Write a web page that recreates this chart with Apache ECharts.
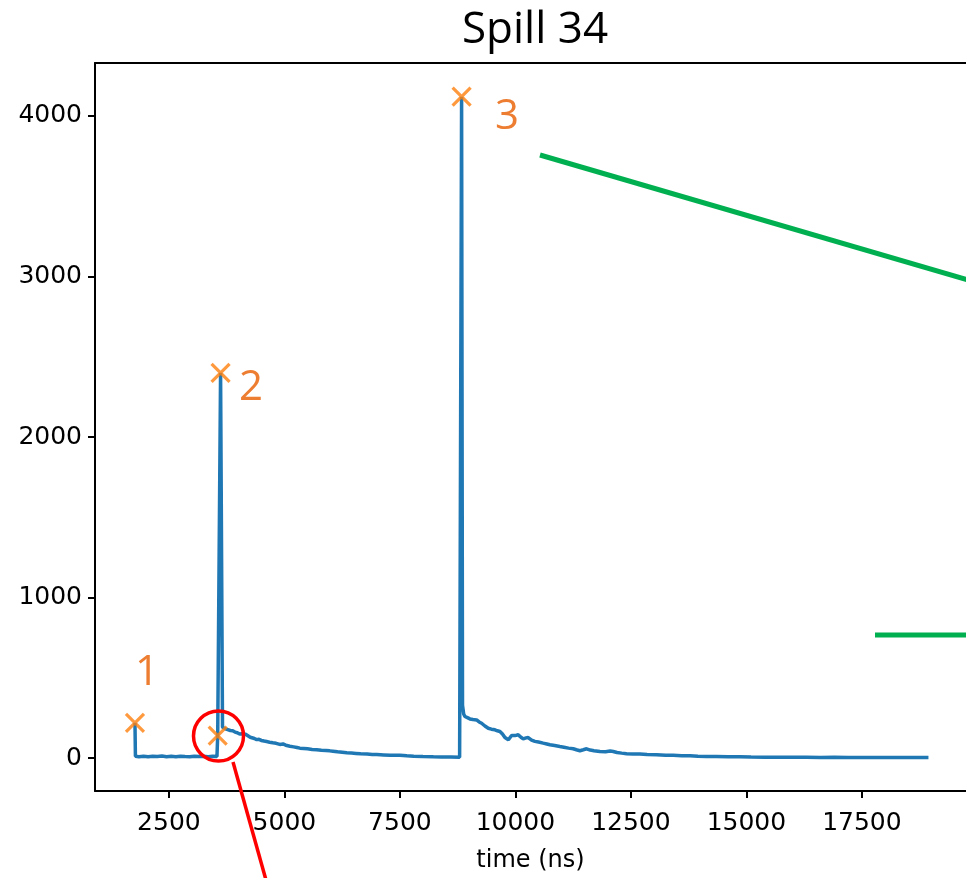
<!DOCTYPE html>
<html><head><meta charset="utf-8">
<script src="https://cdn.jsdelivr.net/npm/echarts@6/dist/echarts.min.js"></script>
<style>html,body{margin:0;padding:0;background:#fff}#c{width:966px;height:878px}</style>
</head><body><div id="c"></div>
<script>
// waveform (time in ns, amplitude)
const timeNs = [1765,1775,1850,1950,2050,2150,2250,2350,2450,2550,2650,2750,2850,2950,3050,3150,3250,3350,3450,3540,
  3556,3618,3660,3700,3740,3780,3830,3880,3930,3980,4030,4080,4110,4160,4200,4260,4300,4350,4400,4450,4500,4560,4615,4680,
  4750,4820,4900,4970,5050,5120,5200,5270,5335,5420,5500,5600,5700,5800,5900,5980,6050,6150,6250,6350,6450,6550,6650,6790,
  6900,7000,7150,7300,7500,7650,7800,8000,8225,8400,8600,8792,8835,8855,8880,8907,8960,9015,9080,9160,9215,9268,9340,9412,
  9480,9556,9610,9665,9720,9773,9848,9917,9990,10061,10120,10169,10230,10277,10350,10422,10500,10602,10680,10747,10850,10963,
  11050,11150,11251,11320,11396,11470,11540,11620,11700,11829,11950,12050,12118,12200,12300,12407,12550,12695,12850,13056,
  13250,13416,13600,13777,13950,14139,14350,14600,14850,15100,15400,15700,16000,16300,16600,16900,17200,17500,17800,18100,
  18400,18700,18940];
const signal = [220,12,9,12,8,11,10,13,9,11,8,12,10,9,12,10,11,9,12,10,
  140,2400,192,186,180,183,172,170,162,158,150,152,145,148,138,130,125,122,115,117,110,106,103,99,
  95,92,85,88,78,74,70,66,62,60,58,54,52,49,47,45,43,39,36,33,31,29,27,25,
  23,22,20,18,17,14,12,10,8,7,7,6,4120,330,275,259,252,244,240,238,225,217,200,186,
  180,176,170,166,150,128,114,141,140,145,130,120,126,128,112,104,100,93,88,83,78,72,
  68,62,58,52,46,52,58,50,46,41,40,44,41,35,31,27,26,25,22,21,
  18,17,15,14,12,10,10,9,8,7,6,6,5,5,4,5,4,4,4,4,
  4,4,4];
// detected peaks
const peakTimes = [1765, 3556, 3618, 8835];
const peakValues = [220, 140, 2400, 4120];
// axis ticks
const xTicks = [2500, 5000, 7500, 10000, 12500, 15000, 17500];
const yTicks = [0, 1000, 2000, 3000, 4000];

const chart = echarts.init(document.getElementById('c'), null, {renderer: 'canvas'});
const lineData = timeNs.map((t, i) => [t, signal[i]]);
const peakData = peakTimes.map((t, i) => [t, peakValues[i]]);
const tickFont = {fontFamily: 'DejaVu Sans', fontSize: 25, color: '#000'};
const annFont = 'Open Sans';
const plain = v => String(v);

chart.setOption({
  animation: false,
  backgroundColor: '#fff',
  grid: {left: 95, right: 0, top: 63, bottom: 85, containLabel: false},
  xAxis: [{
    type: 'value', min: 900, max: 19753, position: 'bottom',
    name: 'time (ns)', nameLocation: 'middle', nameGap: 58,
    nameTextStyle: {fontFamily: 'DejaVu Sans', fontSize: 24, color: '#000'},
    axisLine: {show: true, onZero: false, lineStyle: {color: '#000', width: 2}},
    axisTick: {show: true, length: 7, lineStyle: {color: '#000', width: 2}, customValues: xTicks},
    axisLabel: {show: true, margin: 20, ...tickFont, formatter: plain, customValues: xTicks},
    splitLine: {show: false}
  }, {
    type: 'value', min: 900, max: 19753, position: 'top',
    axisLine: {show: true, onZero: false, lineStyle: {color: '#000', width: 2}},
    axisTick: {show: false}, axisLabel: {show: false}, splitLine: {show: false}
  }],
  yAxis: {
    type: 'value', min: -205, max: 4330,
    axisLine: {show: true, onZero: false, lineStyle: {color: '#000', width: 2}},
    axisTick: {show: true, length: 7, lineStyle: {color: '#000', width: 2}, customValues: yTicks},
    axisLabel: {show: true, margin: 13, ...tickFont, formatter: plain, customValues: yTicks},
    splitLine: {show: false}
  },
  series: [{
    type: 'line', data: lineData, showSymbol: false, symbol: 'none',
    lineStyle: {color: '#1f77b4', width: 3.5}, z: 2
  }, {
    type: 'scatter', data: peakData,
    symbol: 'path://M0,0L10,10M10,0L0,10', symbolSize: 18,
    itemStyle: {color: '#ff7f0e', borderColor: '#ff7f0e', borderWidth: 3.2}, z: 3
  }],
  graphic: [
    {type: 'text', x: 535, y: 30, style: {text: 'Spill 34', fontFamily: annFont, fontSize: 44, fill: '#000', textAlign: 'center', textVerticalAlign: 'middle'}},
    {type: 'text', x: 147, y: 673, style: {text: '1', fontFamily: annFont, fontSize: 42, fill: '#ed7d31', textAlign: 'center', textVerticalAlign: 'middle'}},
    {type: 'text', x: 251, y: 388, style: {text: '2', fontFamily: annFont, fontSize: 42, fill: '#ed7d31', textAlign: 'center', textVerticalAlign: 'middle'}},
    {type: 'text', x: 507, y: 117, style: {text: '3', fontFamily: annFont, fontSize: 42, fill: '#ed7d31', textAlign: 'center', textVerticalAlign: 'middle'}},
    {type: 'line', shape: {x1: 540, y1: 155, x2: 968, y2: 280}, style: {stroke: '#00b050', lineWidth: 5}, z: 10},
    {type: 'line', shape: {x1: 875, y1: 635, x2: 968, y2: 635}, style: {stroke: '#00b050', lineWidth: 5}, z: 10},
    {type: 'circle', shape: {cx: 218.5, cy: 736, r: 25}, style: {stroke: '#ff0000', fill: 'none', lineWidth: 3.5}, z: 10},
    {type: 'line', shape: {x1: 233, y1: 762, x2: 266, y2: 880}, style: {stroke: '#ff0000', lineWidth: 3.5}, z: 10}
  ]
});
</script>
</body></html>
